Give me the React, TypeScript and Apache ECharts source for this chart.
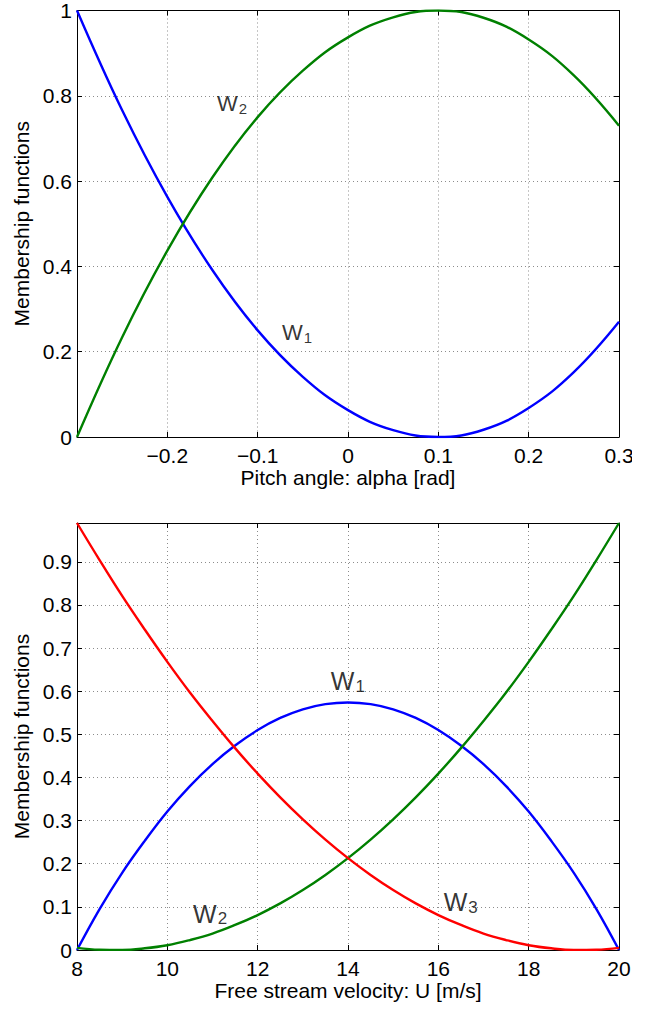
import React, { useEffect, useRef } from "react";
import * as echarts from "echarts";

// ---------- Data ----------
const pitchX = [-0.3, -0.25, -0.2, -0.15, -0.1, -0.05, 0, 0.05, 0.1, 0.15, 0.2, 0.25, 0.3];
const pitchW1 = [1.0, 0.766, 0.563, 0.391, 0.25, 0.141, 0.063, 0.016, 0.0, 0.017, 0.068, 0.152, 0.27];
const pitchW2 = [0.0, 0.234, 0.437, 0.609, 0.75, 0.859, 0.937, 0.984, 1.0, 0.983, 0.932, 0.848, 0.73];

const velX = [8, 8.5, 9, 9.5, 10, 10.5, 11, 11.5, 12, 12.5, 13, 13.5, 14, 14.5, 15, 15.5, 16, 16.5, 17, 17.5, 18, 18.5, 19, 19.5, 20];
const velW1 = [0.0, 0.095, 0.179, 0.253, 0.321, 0.38, 0.431, 0.474, 0.51, 0.538, 0.558, 0.57, 0.574, 0.57, 0.558, 0.538, 0.51, 0.474, 0.431, 0.38, 0.321, 0.253, 0.179, 0.095, 0.0];
const velW2 = [0.005, 0.0007, 0.0003, 0.0039, 0.011, 0.023, 0.038, 0.058, 0.081, 0.108, 0.139, 0.174, 0.213, 0.256, 0.303, 0.354, 0.409, 0.468, 0.531, 0.597, 0.668, 0.743, 0.821, 0.904, 0.99];
const velW3 = [0.99, 0.904, 0.821, 0.743, 0.668, 0.597, 0.531, 0.468, 0.409, 0.354, 0.303, 0.256, 0.213, 0.174, 0.139, 0.108, 0.081, 0.058, 0.038, 0.023, 0.011, 0.0039, 0.0003, 0.0007, 0.005];

// curve labels: [x, y, name, subscript]
const pitchLabels: [number, number, string, string][] = [
  [-0.145, 0.781, "W", "2"],
  [-0.073, 0.244, "W", "1"],
];
const velLabels: [number, number, string, string][] = [
  [13.62, 0.623, "W", "1"],
  [10.57, 0.0835, "W", "2"],
  [16.12, 0.111, "W", "3"],
];

const yAxisName = "Membership functions";
const pitchXName = "Pitch angle: alpha [rad]";
const velXName = "Free stream velocity: U [m/s]";

const FONT = "Liberation Sans";

export default function App() {
  const ref = useRef<HTMLDivElement>(null);

  useEffect(() => {
    if (!ref.current) return;
    const chart = echarts.init(ref.current, null, { renderer: "svg" });

    const splitLine = { show: true, lineStyle: { color: "#8c8c8c", type: [1, 3] as any, width: 1 } };
    const axisLine = { show: true, onZero: false, lineStyle: { color: "#000", width: 1 } };
    const tick = { show: true, inside: true, length: 5, lineStyle: { color: "#000", width: 1 } };
    const label = { color: "#000", fontSize: 21, fontFamily: FONT };
    const nameStyle = { color: "#000", fontSize: 21, fontFamily: FONT };
    const fmt = (v: number) => (v < 0 ? "\u2212" + String(Math.abs(v)) : String(v));

    const mkLabelSeries = (
      data: [number, number, string, string][],
      xi: number,
      yi: number,
      fw: number,
      fs: number,
      pad: number
    ) => ({
      type: "scatter",
      xAxisIndex: xi,
      yAxisIndex: yi,
      symbolSize: 0,
      silent: true,
      data: data.map((d) => ({ value: [d[0], d[1]], name: d[2], sub: d[3] })),
      label: {
        show: true,
        position: "right",
        distance: 0,
        formatter: (p: any) => `{w|${p.data.name}}{s|${p.data.sub}}`,
        rich: {
          w: { fontSize: fw, fontFamily: FONT, color: "#000", verticalAlign: "top", lineHeight: fw },
          s: { fontSize: fs, fontFamily: FONT, color: "#000", verticalAlign: "top", lineHeight: fs, padding: [pad, 0, 0, 1] },
        },
      },
    });

    const line = (xs: number[], ys: number[], color: string, xi: number, yi: number) => ({
      type: "line",
      xAxisIndex: xi,
      yAxisIndex: yi,
      data: xs.map((x, i) => [x, ys[i]]),
      smooth: 0.4,
      showSymbol: false,
      symbol: "none",
      lineStyle: { color, width: 2.4 },
      z: 3,
    });

    chart.setOption({
      animation: false,
      backgroundColor: "#fff",
      grid: [
        { left: 77, top: 10, width: 542, height: 427 },
        { left: 77, top: 523, width: 542, height: 427 },
      ],
      xAxis: [
        {
          gridIndex: 0, type: "value", min: -0.3, max: 0.3, interval: 0.1, position: "bottom",
          axisLine, axisTick: tick, splitLine,
          axisLabel: { ...label, margin: 8, showMinLabel: false, formatter: fmt },
          name: pitchXName, nameLocation: "middle", nameGap: 27, nameTextStyle: nameStyle,
        },
        {
          gridIndex: 0, type: "value", min: -0.3, max: 0.3, interval: 0.1, position: "top",
          axisLine, axisTick: tick, splitLine: { show: false }, axisLabel: { show: false },
        },
        {
          gridIndex: 1, type: "value", min: 8, max: 20, interval: 2, position: "bottom",
          axisLine, axisTick: tick, splitLine,
          axisLabel: { ...label, margin: 8 },
          name: velXName, nameLocation: "middle", nameGap: 27, nameTextStyle: nameStyle,
        },
        {
          gridIndex: 1, type: "value", min: 8, max: 20, interval: 2, position: "top",
          axisLine, axisTick: tick, splitLine: { show: false }, axisLabel: { show: false },
        },
      ],
      yAxis: [
        {
          gridIndex: 0, type: "value", min: 0, max: 1, interval: 0.2, position: "left",
          axisLine, axisTick: tick, splitLine,
          axisLabel: { ...label, margin: 5 },
          name: yAxisName, nameLocation: "middle", nameGap: 42, nameTextStyle: nameStyle,
        },
        {
          gridIndex: 0, type: "value", min: 0, max: 1, interval: 0.2, position: "right",
          axisLine, axisTick: tick, splitLine: { show: false }, axisLabel: { show: false },
        },
        {
          gridIndex: 1, type: "value", min: 0, max: 0.99, interval: 0.1, position: "left",
          axisLine, axisTick: tick, splitLine,
          axisLabel: { ...label, margin: 5, showMaxLabel: false },
          name: yAxisName, nameLocation: "middle", nameGap: 42, nameTextStyle: nameStyle,
        },
        {
          gridIndex: 1, type: "value", min: 0, max: 0.99, interval: 0.1, position: "right",
          axisLine, axisTick: tick, splitLine: { show: false }, axisLabel: { show: false },
        },
      ],
      series: [
        line(pitchX, pitchW1, "#0000ff", 0, 0),
        line(pitchX, pitchW2, "#008000", 0, 0),
        line(velX, velW1, "#0000ff", 2, 2),
        line(velX, velW2, "#008000", 2, 2),
        line(velX, velW3, "#ff0000", 2, 2),
        mkLabelSeries(pitchLabels, 0, 0, 22, 15, 8),
        mkLabelSeries(velLabels, 2, 2, 25, 17, 9),
      ],
      graphic: [
        // the reference image is cropped just right of the plots
        { type: "rect", left: 632, top: 440, shape: { width: 40, height: 40 }, style: { fill: "#fff" }, z: 100 },
      ],
    });

    return () => chart.dispose();
  }, []);

  return (
    <div
      ref={ref}
      style={{ position: "absolute", left: 0, top: 0, width: 660, height: 1009, background: "#fff" }}
    />
  );
}
